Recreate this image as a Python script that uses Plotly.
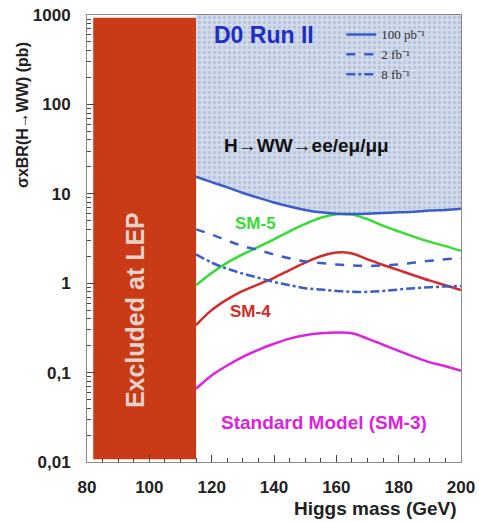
import plotly.graph_objects as go
import math

# Higgs mass grid (GeV)
mass = [115, 120, 125, 130, 135, 140, 145, 150, 155, 160, 165, 170, 175, 180, 185, 190, 195, 200]

# D0 Run II expected limits (pb)
lim_100pb = [15.5, 13.5, 11.8, 10.2, 9.0, 8.0, 7.2, 6.6, 6.2, 6.0, 5.95, 6.0, 6.1, 6.2, 6.3, 6.5, 6.6, 6.8]
lim_2fb = [4.0, 3.5, 3.0, 2.6, 2.35, 2.1, 1.9, 1.75, 1.68, 1.62, 1.58, 1.56, 1.58, 1.62, 1.7, 1.78, 1.85, 1.9]
lim_8fb = [2.1, 1.7, 1.45, 1.28, 1.15, 1.03, 0.95, 0.88, 0.85, 0.82, 0.8, 0.8, 0.82, 0.85, 0.88, 0.9, 0.92, 0.93]

# model predictions sigma x BR(H->WW) (pb)
sm5 = [0.95, 1.3, 1.7, 2.1, 2.55, 3.1, 3.8, 4.6, 5.4, 5.9, 5.85, 5.2, 4.4, 3.8, 3.3, 2.9, 2.6, 2.3]
sm4 = [0.34, 0.5, 0.66, 0.82, 0.97, 1.15, 1.4, 1.7, 2.0, 2.2, 2.15, 1.85, 1.6, 1.4, 1.22, 1.07, 0.95, 0.84]
sm3 = [0.066, 0.093, 0.12, 0.15, 0.18, 0.21, 0.24, 0.262, 0.275, 0.28, 0.275, 0.24, 0.205, 0.175, 0.15, 0.13, 0.118, 0.105]

# axes
x_range = [80, 200]
y_min, y_max = 0.01, 1000
x_ticks = [80, 100, 120, 140, 160, 180, 200]
y_ticks = [0.01, 0.1, 1, 10, 100, 1000]
y_ticktext = ["0,01", "0,1", "1", "10", "100", "1000"]
lep_band = [82, 115]

BLUE = "#3a5ccc"
bold = dict(family="Liberation Sans, Arial, sans-serif", weight="bold")

fig = go.Figure()

# LEP exclusion band
fig.add_shape(type="rect", xref="x", yref="paper", x0=lep_band[0], x1=lep_band[1],
              y0=0.006, y1=0.994, fillcolor="#c93a16", line_width=0, layer="below")

# excluded (shaded) region above 100 pb^-1 limit
fig.add_trace(go.Scatter(
    x=mass + [mass[-1], mass[0]], y=lim_100pb + [y_max, y_max],
    fill="toself", mode="none", fillcolor="#cdd6e7",
    fillpattern=dict(shape=".", bgcolor="#d3dbea", fgcolor="#9caed2", size=5, solidity=0.35),
    showlegend=False, hoverinfo="skip"))

def curve(y, color, dash="solid", name=None):
    fig.add_trace(go.Scatter(x=mass, y=y, mode="lines", name=name, showlegend=name is not None,
                             line=dict(color=color, width=2.5, dash=dash, shape="spline", smoothing=1.0)))

curve(sm3, "#dd22dd")
curve(sm4, "#d42a2a")
curve(sm5, "#33dd33")
curve(lim_100pb, BLUE, "solid", "100 pb⁻¹")
curve(lim_2fb, BLUE, "dash", "2 fb⁻¹")
curve(lim_8fb, BLUE, "dashdot", "8 fb⁻¹")

def ann(text, x, y, size, color, **kw):
    fig.add_annotation(text=text, x=x, y=y, xref=kw.pop("xref", "x"), yref=kw.pop("yref", "y"),
                       showarrow=False, font=dict(size=size, color=color, **bold), **kw)

ann("Excluded at LEP", 95.4, math.log10(0.5), 25, "#e6d2cb", textangle=-90)
ann("D0 Run II", 120.0, math.log10(600), 23, "#1c2fc0", xanchor="left")
ann("H→WW→ee/eμ/μμ", 150.5, math.log10(35), 19, "#111111")
ann("SM-5", 134, math.log10(4.7), 17, "#33dd33")
ann("SM-4", 132.6, math.log10(0.48), 17, "#d42a2a")
ann("Standard Model (SM-3)", 156, math.log10(0.028), 19, "#dd22dd")
ann("σxBR(H→WW) (pb)", -0.174, 0.776, 16, "#222222", xref="paper", yref="paper",
    textangle=-90, xanchor="center", yanchor="middle")
ann("Higgs mass (GeV)", 0.995, -0.103, 19, "#222222", xref="paper", yref="paper",
    xanchor="right", yanchor="middle")

axis_common = dict(showline=True, linecolor="#8a8a8a", linewidth=1, mirror=True, automargin=False,
                   ticks="inside", tickcolor="#444", showgrid=False, zeroline=False,
                   tickfont=dict(size=17, color="#222222", **bold))

fig.update_xaxes(range=x_range, tickvals=x_ticks, ticklen=7, ticklabelstandoff=10,
                 minor=dict(tickvals=list(range(80, 201, 5)), ticks="inside", ticklen=4, tickcolor="#444"),
                 **axis_common)
minor_y = [m * 10 ** e for e in range(-2, 3) for m in range(2, 10)]
fig.update_yaxes(type="log", range=[math.log10(y_min), math.log10(y_max)], tickvals=y_ticks,
                 ticktext=y_ticktext, ticklen=8, ticklabelstandoff=12,
                 minor=dict(tickvals=minor_y, ticks="inside", ticklen=4, tickcolor="#444"),
                 **axis_common)

fig.update_layout(
    width=479, height=522, margin=dict(l=87, r=18, t=15, b=60),
    paper_bgcolor="white", plot_bgcolor="white",
    legend=dict(x=0.68, y=0.99, xanchor="left", yanchor="top", bgcolor="rgba(0,0,0,0)",
                font=dict(family="Liberation Serif, serif", size=13, color="#333"),
                tracegroupgap=0, itemwidth=30),
)

fig.write_html("out.html")
